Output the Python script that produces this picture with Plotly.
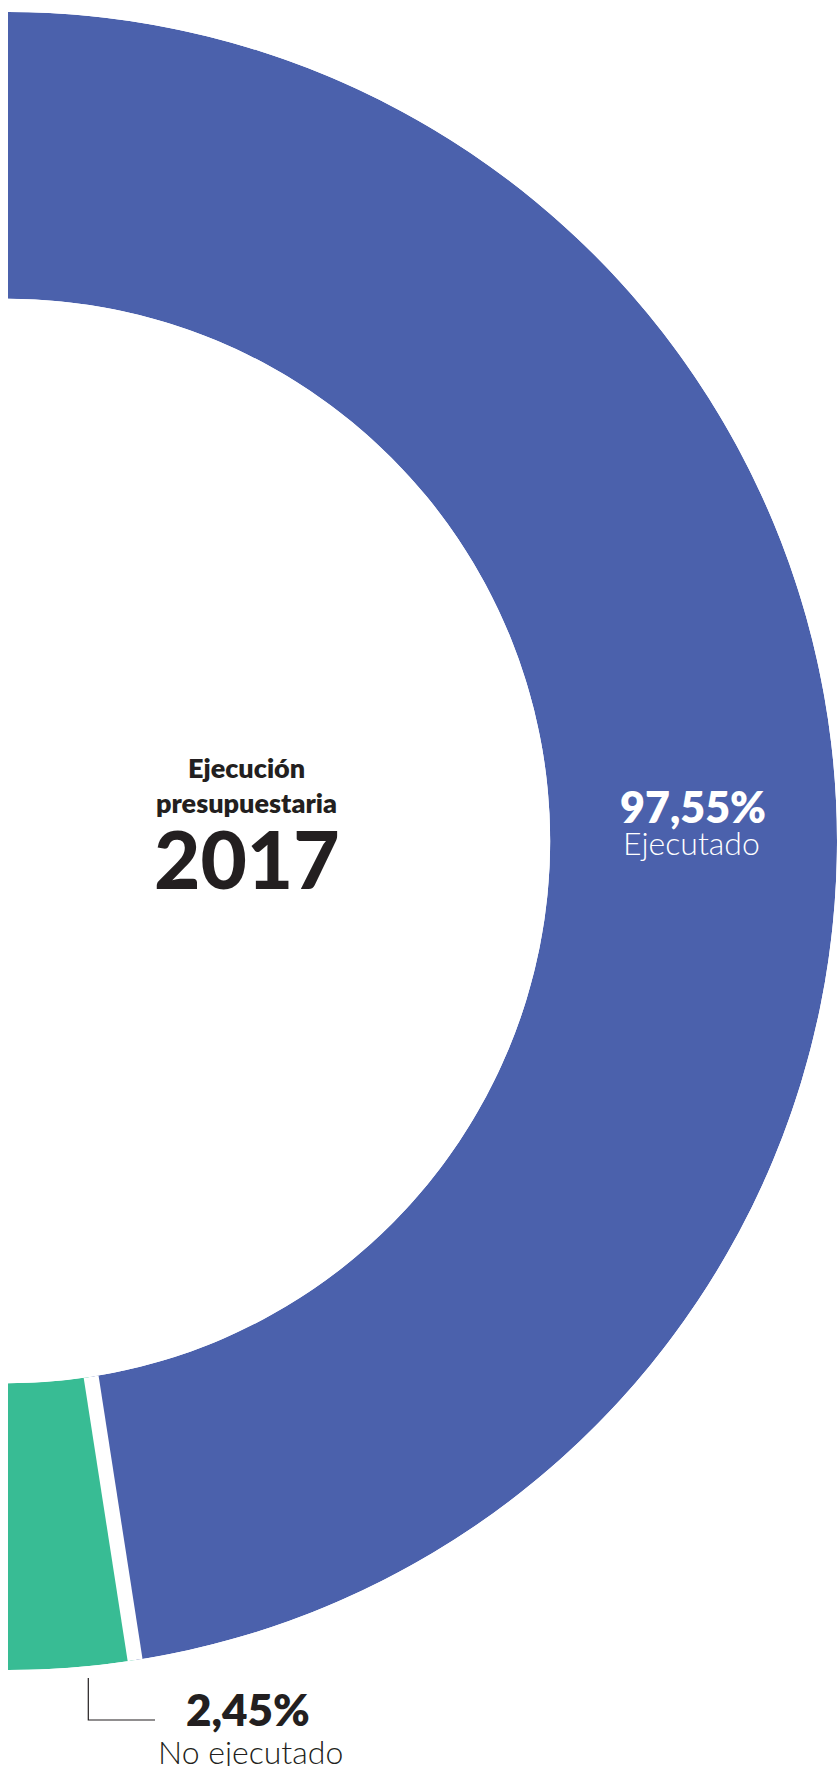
import plotly.graph_objects as go

# Budget execution shares (%)
categories = ["Ejecutado", "No ejecutado"]
shares = [97.55, 2.45]
colors = ["#4B61AC", "#38BC94"]
title_lines = ["Ejecución", "presupuestaria"]
year_label = "2017"

W, H = 837, 1766
ML, MR, MT, MB = 8, 0, 0, 84
INK = "#231F20"
FONT = "Lato"


def fmt_pct(v):
    return f"{v:.2f}".replace(".", ",") + "%"


def px(x):
    return (x - ML) / (W - ML - MR)


def py(y):
    return 1 - (y - MT) / (H - MT - MB)


# Each share as an angular span of the full ring (clockwise from the top).
spans = [s / 100 * 360 for s in shares]
span_exec, span_no = spans
# The small slice closes at the bottom of the ring; the large one runs on
# from there, around the hidden left half, back over the top.
theta_no = 180 - span_no / 2
theta_exec = 180 + span_exec / 2
boundary = 180 - span_no

fig = go.Figure()
fig.add_trace(go.Barpolar(
    r=[1], theta=[theta_exec], width=[span_exec], base=0,
    marker=dict(color=colors[0], line=dict(width=0)),
    name=categories[0], hoverinfo="name",
))
fig.add_trace(go.Barpolar(
    r=[1], theta=[theta_no], width=[span_no], base=0,
    marker=dict(color=colors[1], line=dict(width=0)),
    name=categories[1], hoverinfo="name",
))
# white separator between the two slices
fig.add_trace(go.Scatterpolar(
    r=[0, 1], theta=[boundary, boundary], mode="lines",
    line=dict(color="white", width=15), hoverinfo="skip",
))

annotations = [
    dict(text=title_lines[0], x=px(246.5), y=py(767), size=27, weight=800, color=INK),
    dict(text=title_lines[1], x=px(246.5), y=py(802), size=27, weight=800, color=INK),
    dict(text=year_label, x=px(246.5), y=py(858), size=80, weight=900, color=INK),
    dict(text=fmt_pct(shares[0]), x=px(692.5), y=py(806.5), size=43, weight=800, color="white"),
    dict(text=categories[0], x=px(691.7), y=py(842), size=32, weight=300, color="white"),
    dict(text=fmt_pct(shares[1]), x=px(248), y=py(1709), size=44, weight=800, color=INK),
    dict(text=categories[1], x=px(250), y=py(1751), size=32, weight=300, color=INK),
]

fig.update_layout(
    width=W, height=H,
    margin=dict(l=ML, r=MR, t=MT, b=MB, pad=0),
    paper_bgcolor="white", plot_bgcolor="white",
    showlegend=False,
    polar=dict(
        domain=dict(x=[0, 1], y=[0, 1]),
        sector=[-90, 90],
        hole=0.654,
        bgcolor="white",
        radialaxis=dict(range=[0, 1], visible=False, showgrid=False,
                        showline=False, ticks=""),
        angularaxis=dict(rotation=90, direction="clockwise", visible=False,
                         showgrid=False, showline=False, ticks=""),
    ),
    annotations=[
        dict(text=a["text"], x=a["x"], y=a["y"], xref="paper", yref="paper",
             xanchor="center", yanchor="middle", showarrow=False,
             font=dict(family=FONT, size=a["size"], weight=a["weight"], color=a["color"]))
        for a in annotations
    ],
    shapes=[
        dict(type="path", xref="paper", yref="paper",
             path=f"M {px(88.3)} {py(1678)} L {px(88.3)} {py(1720)} L {px(155)} {py(1720)}",
             line=dict(color=INK, width=1.2)),
    ],
)

fig.write_html("out.html")
